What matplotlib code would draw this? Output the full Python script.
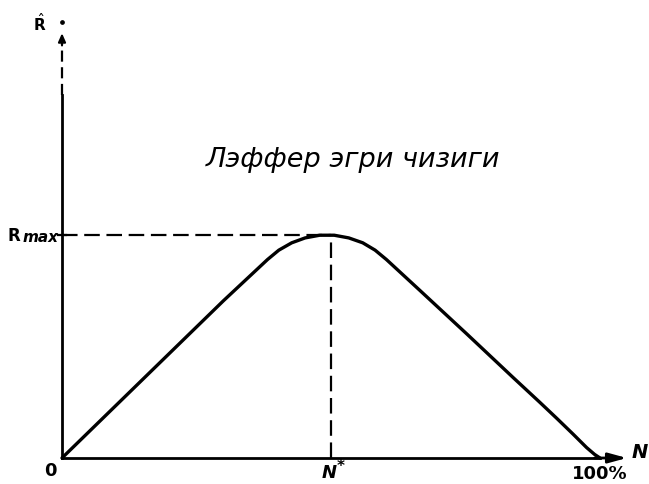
import matplotlib
matplotlib.use("Agg")
import matplotlib.pyplot as plt

# ---- data ----
tax_rate = [0, 10, 20, 30, 38.2, 40.3, 42.7, 45.2, 47.9, 50.6, 53.3, 55.9, 58.2, 60.3,
            66.5, 75.3, 83.8, 88.8, 92.0, 95.0, 97.5, 99.0, 100]
revenue = [0, 0.235, 0.47, 0.705, 0.89, 0.932, 0.965, 0.987, 0.999, 0.999, 0.987, 0.965, 0.932, 0.89,
           0.752, 0.555, 0.362, 0.25, 0.177, 0.107, 0.047, 0.016, 0]
n_star = 50
r_max = 1.0
x_labels = ["0", "N", "100%"]
x_label_pos = [0, n_star, 100]
title_text = "Лэффер эгри чизиги"

W, H = 649, 485
fig = plt.figure(figsize=(W / 100, H / 100), dpi=100)
ax = fig.add_axes([0, 0, 1, 1])
# pixel mapping: N=0 -> x=62, N=100 -> x=600 ; R=0 -> y=459, R=1 -> y=236
sx = (600 - 62) / 100.0
sy = (459 - 236) / 1.0
ax.set_xlim(-62 / sx, (W - 62) / sx)
ax.set_ylim(-(H - 459) / sy, 459 / sy)
ax.axis("off")

k = "black"
# curve
ax.plot(tax_rate, revenue, color=k, lw=2.4, solid_capstyle="round", solid_joinstyle="round")

# x axis with arrow
ax.plot([0, 100], [0, 0], color=k, lw=2.0)
ax.annotate("", xy=(105.0, 0), xytext=(99, 0),
            arrowprops=dict(arrowstyle="-|>,head_length=1.1,head_width=0.3", color=k, lw=2.0,
                            shrinkA=0, shrinkB=0))

# y axis: solid part then dashed part and arrow
ax.plot([0, 0], [0, 1.63], color=k, lw=2.0)
ax.plot([0, 0], [1.63, 1.855], color=k, lw=1.6, dashes=(5, 2.5))
ax.annotate("", xy=(0, 1.905), xytext=(0, 1.85),
            arrowprops=dict(arrowstyle="-|>,head_length=0.5,head_width=0.22", color=k, lw=1.5,
                            shrinkA=0, shrinkB=0))
ax.plot([0], [1.955], marker="o", ms=2.4, color=k)

# dashed guide lines
ax.plot([0, n_star], [r_max, r_max], color=k, lw=1.6, dashes=(7, 3))
ax.plot([n_star, n_star], [0, r_max], color=k, lw=1.6, dashes=(7, 3))
# tick at Rmax
ax.plot([-0.8, 0.8], [r_max, r_max], color=k, lw=1.6)

# labels
ax.text(-4.1, 1.955, r"$\hat{\mathbf{R}}$", fontsize=11, ha="center", va="center")
ax.text(-10.1, r_max, "R", fontsize=12, fontweight="bold", ha="left", va="center")
ax.text(-7.3, r_max - 0.005, "max", fontsize=11, fontweight="bold", style="italic",
        ha="left", va="center")
ax.text(-2.2, -0.055, x_labels[0], fontsize=13, fontweight="bold", ha="center", va="center")
ax.text(x_label_pos[1] + 1.0, -0.062, x_labels[1], fontsize=13, fontweight="bold", style="italic",
        ha="right", va="center")
ax.text(x_label_pos[1] + 1.1, -0.035, "*", fontsize=11, fontweight="bold", ha="left", va="center")
ax.text(x_label_pos[2], -0.068, x_labels[2], fontsize=13, fontweight="bold", ha="center", va="center")
ax.text(107.4, 0.027, "N", fontsize=14, fontweight="bold", style="italic", ha="center", va="center")

ax.text(54.1, 1.34, title_text, fontsize=19.5, style="italic", ha="center", va="center")

fig.savefig("out.png", dpi=100)
